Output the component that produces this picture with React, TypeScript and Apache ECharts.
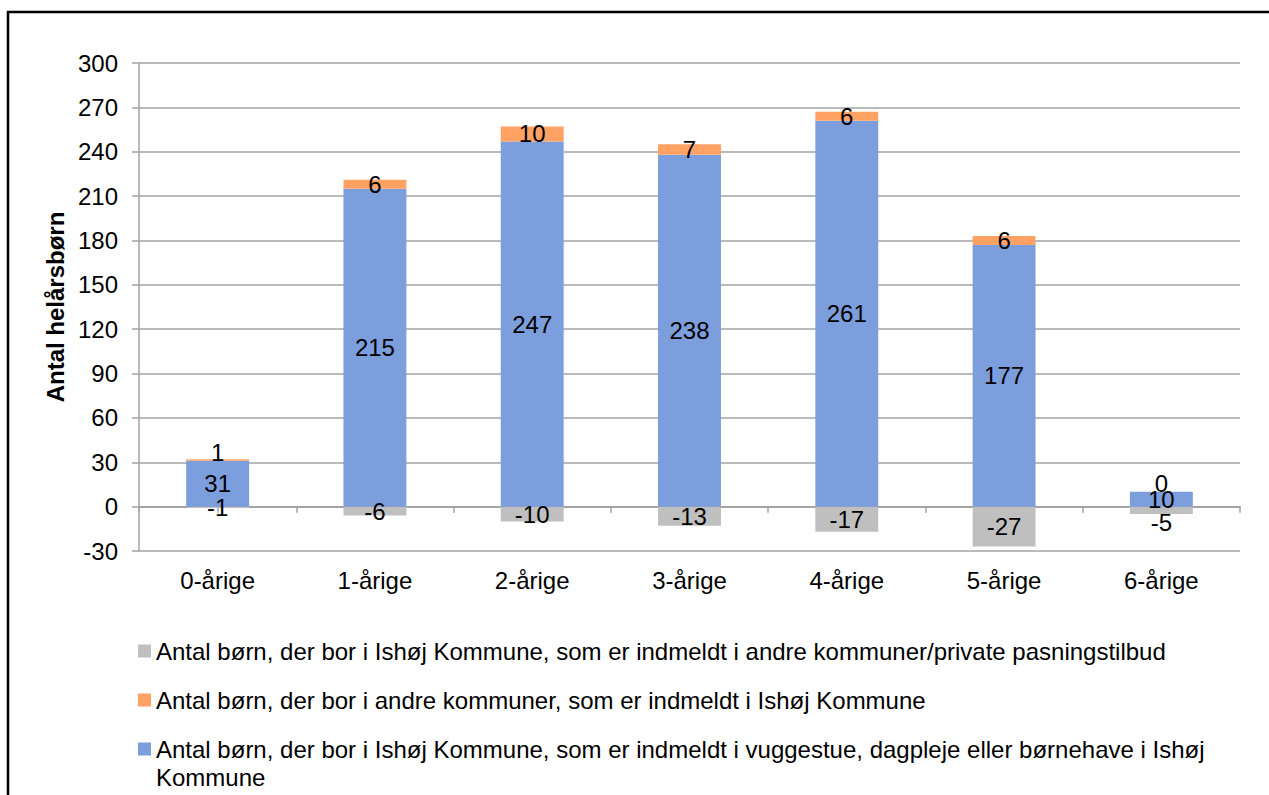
import React, { useEffect, useRef } from "react";
import * as echarts from "echarts";

const categories = ["0-årige", "1-årige", "2-årige", "3-årige", "4-årige", "5-årige", "6-årige"];
const seriesNames = [
  "Antal børn, der bor i Ishøj Kommune, som er indmeldt i andre kommuner/private pasningstilbud",
  "Antal børn, der bor i andre kommuner, som er indmeldt i Ishøj Kommune",
  "Antal børn, der bor i Ishøj Kommune, som er indmeldt i vuggestue, dagpleje eller børnehave i Ishøj Kommune",
];
const outsideValues = [-1, -6, -10, -13, -17, -27, -5];
const incomingValues = [1, 6, 10, 7, 6, 6, 0];
const localValues = [31, 215, 247, 238, 261, 177, 10];
const yAxisTitle = "Antal helårsbørn";
const yMin = -30;
const yMax = 300;
const yStep = 30;

const FONT = "'Liberation Sans', Arial, sans-serif";
const GRID_COLOR = "#a3a3a3";
const COLORS = { gray: "#bfbfbf", orange: "#ffa264", blue: "#7c9edd" };

export default function App() {
  const ref = useRef<HTMLDivElement>(null);
  useEffect(() => {
    if (!ref.current) return;
    const chart = echarts.init(ref.current, undefined, { renderer: "svg" });
    const labelBase = {
      show: true,
      position: "inside",
      color: "#000",
      fontSize: 24,
      fontFamily: FONT,
    };
    const legendText = { fontSize: 24, lineHeight: 28, color: "#000", fontFamily: FONT };
    const legendCommon = {
      orient: "vertical",
      left: 138,
      padding: 0,
      itemWidth: 13,
      itemHeight: 13,
      itemGap: 0,
      icon: "rect",
      selectedMode: false,
      textStyle: legendText,
    };
    chart.setOption({
      animation: false,
      textStyle: { fontFamily: FONT },
      graphic: [
        {
          type: "rect",
          silent: true,
          shape: { x: 8, y: 12, width: 1300, height: 900 },
          style: { fill: "none", stroke: "#000", lineWidth: 2.5 },
        },
      ],
      grid: { left: 139, right: 29, top: 63, bottom: 244, containLabel: false },
      legend: [
        { ...legendCommon, top: 637, data: [seriesNames[0]] },
        { ...legendCommon, top: 686, data: [seriesNames[1]] },
        {
          ...legendCommon,
          top: 707,
          formatter: (name: string) => "\n" + name,
          textStyle: { ...legendText, width: 1100, overflow: "break" },
          data: [seriesNames[2]],
        },
      ],
      xAxis: [
        {
          type: "category",
          data: categories,
          axisLine: { show: true, onZero: true, onZeroAxisIndex: 0, lineStyle: { color: GRID_COLOR, width: 1.5 } },
          axisTick: { show: true, alignWithLabel: false, length: 6, lineStyle: { color: GRID_COLOR, width: 1.5 } },
          axisLabel: { margin: 17, fontSize: 24, color: "#000", fontFamily: FONT },
          splitLine: { show: false },
        },
        {
          type: "category",
          data: categories,
          position: "bottom",
          axisLine: { show: true, onZero: true, onZeroAxisIndex: 0, lineStyle: { color: GRID_COLOR, width: 1.5 } },
          axisTick: { show: true, alignWithLabel: true, length: 6, lineStyle: { color: GRID_COLOR, width: 1.5 } },
          axisLabel: { show: false },
          splitLine: { show: false },
        },
      ],
      yAxis: {
        type: "value",
        min: yMin,
        max: yMax,
        interval: yStep,
        name: yAxisTitle,
        nameLocation: "middle",
        nameRotate: 90,
        nameGap: 70,
        nameTextStyle: { fontWeight: "bold", fontSize: 24, color: "#000", fontFamily: FONT },
        axisLine: { show: true, lineStyle: { color: GRID_COLOR, width: 1.5 } },
        axisTick: { show: true, length: 7, lineStyle: { color: GRID_COLOR, width: 1.5 } },
        axisLabel: { margin: 21, fontSize: 24, color: "#000", fontFamily: FONT },
        splitLine: { show: true, lineStyle: { color: GRID_COLOR, width: 1.5 } },
      },
      series: [
        {
          name: seriesNames[0],
          type: "bar",
          stack: "total",
          barWidth: "40%",
          data: outsideValues,
          itemStyle: { color: COLORS.gray },
          label: labelBase,
          labelLayout: (p: any) => (localValues[p.dataIndex] < 20 ? { dy: 12 } : {}),
        },
        {
          name: seriesNames[2],
          type: "bar",
          stack: "total",
          barWidth: "40%",
          data: localValues,
          itemStyle: { color: COLORS.blue },
          label: labelBase,
        },
        {
          name: seriesNames[1],
          type: "bar",
          stack: "total",
          barWidth: "40%",
          data: incomingValues,
          itemStyle: { color: COLORS.orange },
          label: labelBase,
          labelLayout: (p: any) => (p.rect && p.rect.height < 3 ? { dy: -8 } : {}),
        },
      ],
    });
    return () => chart.dispose();
  }, []);
  return (
    <div
      ref={ref}
      style={{ position: "fixed", left: 0, top: 0, width: 1269, height: 795, background: "#fff" }}
    />
  );
}
